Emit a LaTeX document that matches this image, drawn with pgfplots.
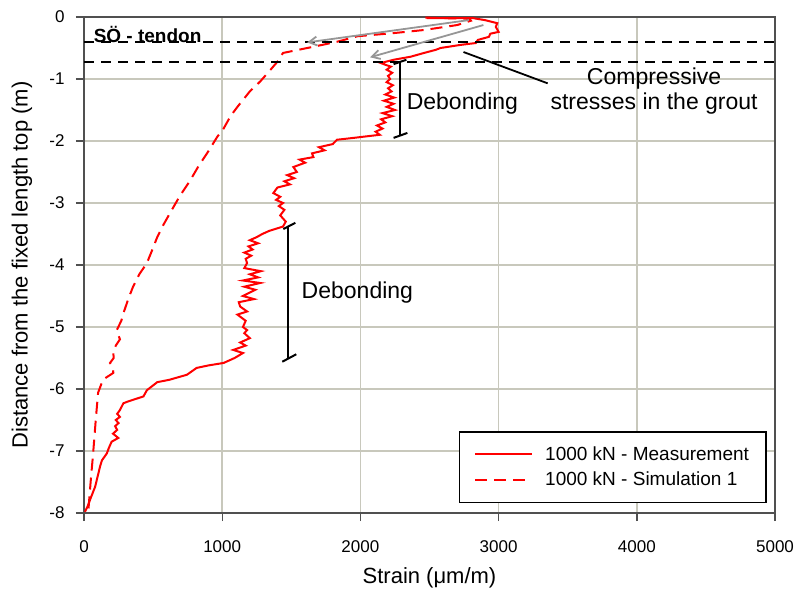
\documentclass[border=0pt]{standalone}
\usepackage{fontspec}
\setmainfont{Liberation Sans}
\usepackage{pgfplots}
\pgfplotsset{compat=1.18}
\usetikzlibrary{arrows.meta}

\definecolor{gridc}{RGB}{200,200,188}
\definecolor{arrgray}{RGB}{150,150,150}
\definecolor{axc}{RGB}{80,80,80}

\begin{document}
\begin{tikzpicture}
\begin{axis}[
    scale only axis,
    width=691pt, height=496pt,
    xmin=0, xmax=5000, ymin=-8, ymax=0,
    xtick={0,1000,2000,3000,4000,5000},
    ytick={-8,-7,-6,-5,-4,-3,-2,-1,0},
    grid=major,
    major grid style={gridc, line width=1.6pt},
    axis line style={axc, line width=1.4pt},
    tick align=outside, tick pos=left,
    major tick length=8pt,
    tick style={axc, line width=1.4pt},
    ticklabel style={font=\fontsize{17}{20}\selectfont},
    xticklabel style={yshift=-16pt},
    yticklabel style={xshift=-8pt},
    /pgf/number format/assume math mode=true,
    /pgf/number format/set thousands separator={},
    xlabel={Strain (μm/m)},
    ylabel={Distance from the fixed length top (m)},
    xlabel style={font=\fontsize{22}{24}\selectfont, at={(axis description cs:0.5,-0.131)}, anchor=center},
    ylabel style={font=\fontsize{22}{24}\selectfont, at={(axis description cs:-0.0897,0.5)}, anchor=center},
    legend style={at={(0.988,0.02)}, anchor=south east, draw=black, line width=1.4pt,
        fill=white, font=\fontsize{19}{22}\selectfont, inner xsep=15pt, inner ysep=13pt,
        row sep=6pt, cells={anchor=west}},
]

% legend images
\addlegendimage{red, solid, line width=2pt, legend image code/.code={\draw[red, solid, line width=2pt] (0pt,0pt) -- (57pt,0pt);}}
\addlegendentry{\hspace{10pt}1000 kN - Measurement}
\addlegendimage{red, line width=2pt, legend image code/.code={\draw[red, line width=2pt, dash pattern=on 12pt off 7pt] (0pt,0pt) -- (57pt,0pt);}}
\addlegendentry{\hspace{10pt}1000 kN - Simulation 1}

% measurement
\addplot[red, solid, line width=2pt, forget plot] coordinates {
(2480,-0.02) (2820,-0.02) (2900,-0.05) (2990,-0.1) (2980,-0.16) (3000,-0.24)
(2940,-0.27) (2930,-0.32) (2850,-0.37) (2835,-0.42) (2725,-0.45) (2580,-0.5)
(2545,-0.53) (2460,-0.58) (2365,-0.64) (2240,-0.69) (2170,-0.73) (2145,-0.74)
(2180,-0.77) (2220,-0.8) (2190,-0.85) (2230,-0.9) (2200,-0.95) (2215,-1.0)
(2190,-1.05) (2235,-1.1) (2200,-1.15) (2225,-1.2) (2180,-1.25) (2245,-1.3)
(2170,-1.35) (2240,-1.4) (2190,-1.45) (2250,-1.5) (2160,-1.55) (2230,-1.6)
(2150,-1.65) (2180,-1.7) (2120,-1.75) (2160,-1.8) (2110,-1.85) (2140,-1.9)
(1950,-1.95) (1830,-1.98) (1800,-2.05) (1700,-2.1) (1740,-2.15) (1650,-2.2)
(1660,-2.26) (1560,-2.3) (1600,-2.35) (1515,-2.42) (1540,-2.5) (1470,-2.55)
(1520,-2.6) (1450,-2.65) (1490,-2.7) (1400,-2.75) (1370,-2.84) (1420,-2.9)
(1390,-2.95) (1440,-3.0) (1410,-3.05) (1450,-3.11) (1420,-3.2) (1460,-3.3)
(1440,-3.38) (1340,-3.45) (1290,-3.5) (1250,-3.55) (1200,-3.6) (1260,-3.65)
(1190,-3.7) (1220,-3.75) (1160,-3.8) (1210,-3.85) (1170,-3.9) (1180,-3.97)
(1160,-4.05) (1280,-4.1) (1200,-4.15) (1260,-4.2) (1150,-4.25) (1275,-4.29)
(1160,-4.35) (1240,-4.4) (1150,-4.5) (1230,-4.55) (1120,-4.6) (1130,-4.67)
(1180,-4.75) (1110,-4.8) (1170,-4.9) (1150,-5.0) (1180,-5.05) (1160,-5.1)
(1200,-5.18) (1130,-5.25) (1170,-5.3) (1080,-5.37) (1150,-5.42) (1090,-5.5)
(1010,-5.58) (900,-5.62) (815,-5.66) (745,-5.77) (620,-5.85) (530,-5.89)
(455,-6.02) (430,-6.12) (320,-6.2) (285,-6.23) (260,-6.34) (240,-6.4)
(260,-6.45) (230,-6.5) (250,-6.55) (225,-6.6) (240,-6.66) (210,-6.72)
(248,-6.79) (200,-6.85) (180,-6.95) (165,-7.04) (130,-7.15) (116,-7.25)
(100,-7.4) (80,-7.58) (50,-7.75) (25,-7.9) (7,-7.98)
};

% simulation
\addplot[red, line width=2pt, dash pattern=on 12pt off 7pt, forget plot] coordinates {
(2470,-0.01) (2790,-0.03) (2800,-0.06) (2700,-0.13) (2460,-0.21) (2240,-0.26)
(1980,-0.31) (1830,-0.4) (1660,-0.48) (1440,-0.58) (1400,-0.72) (1350,-0.85)
(1275,-1.04) (1200,-1.2) (1110,-1.45) (1060,-1.6) (1010,-1.8) (965,-1.93)
(890,-2.2) (830,-2.4) (770,-2.63) (690,-2.9) (623,-3.16) (575,-3.35)
(530,-3.55) (495,-3.75) (455,-3.97) (400,-4.15) (355,-4.35) (320,-4.55)
(285,-4.78) (270,-4.9) (237,-5.05) (260,-5.2) (230,-5.3) (212,-5.42)
(215,-5.5) (188,-5.58) (210,-5.66) (212,-5.74) (137,-5.85) (102,-6.06)
(85,-6.5) (66,-7.04) (48,-7.5) (30,-8.0)
};

% tendon limits
\draw[black, line width=2pt, dash pattern=on 10pt off 7pt] (axis cs:0,-0.40) -- (axis cs:5000,-0.40);
\draw[black, line width=2pt, dash pattern=on 10pt off 7pt] (axis cs:0,-0.73) -- (axis cs:5000,-0.73);
\node[anchor=west, font=\fontsize{19}{22}\selectfont\bfseries] at (axis cs:45,-0.29) {SÖ - tendon};

% gray arrows
\draw[arrgray, line width=1.8pt, -{Straight Barb[length=8pt,width=9pt]}] (axis cs:2785,-0.05) -- (axis cs:1615,-0.41);
\draw[arrgray, line width=1.8pt, -{Straight Barb[length=8pt,width=9pt]}] (axis cs:2890,-0.13) -- (axis cs:2070,-0.65);

% compressive stresses
\draw[black, line width=1.8pt] (axis cs:2746,-0.565) -- (axis cs:3355,-1.07);
\node[align=center, font=\fontsize{23}{25}\selectfont] at (axis cs:4125,-1.19) {Compressive\\stresses in the grout};

% debonding 1
\draw[black, line width=2pt] (axis cs:2290,-0.72) -- (axis cs:2290,-1.91);
\draw[black, line width=2pt] (axis cs:2240,-0.76) -- (axis cs:2333,-0.69);
\draw[black, line width=2pt] (axis cs:2240,-1.95) -- (axis cs:2340,-1.87);
\node[anchor=west, font=\fontsize{23}{25}\selectfont] at (axis cs:2310,-1.39) {Debonding};

% debonding 2
\draw[black, line width=2pt] (axis cs:1478,-3.37) -- (axis cs:1478,-5.5);
\draw[black, line width=2pt] (axis cs:1442,-3.42) -- (axis cs:1529,-3.32);
\draw[black, line width=2pt] (axis cs:1435,-5.56) -- (axis cs:1536,-5.44);
\node[anchor=west, font=\fontsize{23}{25}\selectfont] at (axis cs:1550,-4.45) {Debonding};

\end{axis}
\pgfresetboundingbox
\useasboundingbox ([shift={(-84pt,-82pt)}]current axis.south west) rectangle ([shift={(20pt,17pt)}]current axis.north east);
\end{tikzpicture}
\end{document}
